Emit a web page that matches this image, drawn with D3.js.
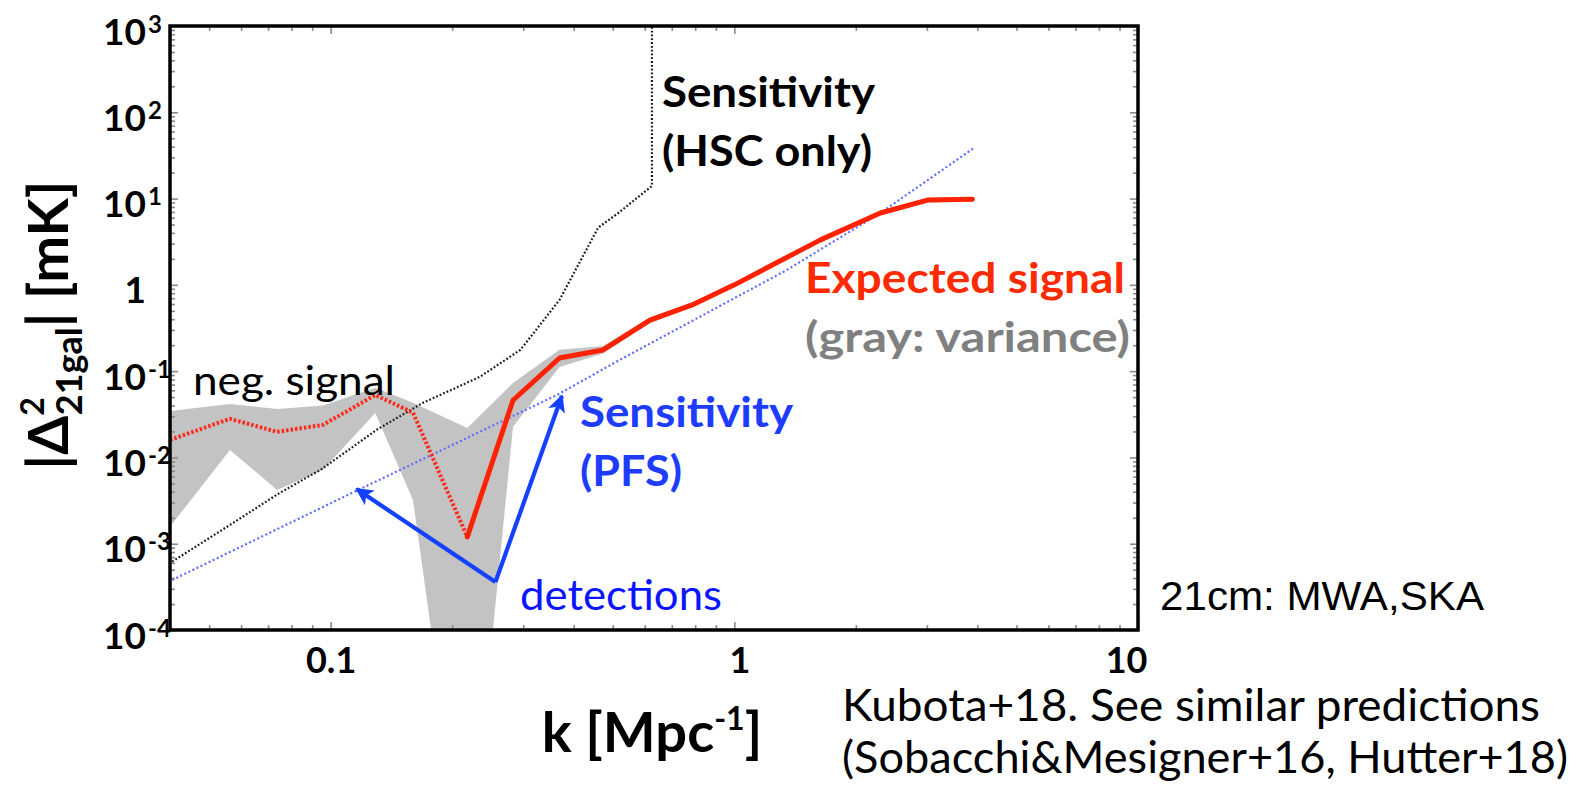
<!DOCTYPE html>
<html>
<head>
<meta charset="utf-8">
<script src="https://cdn.jsdelivr.net/npm/d3@7/dist/d3.min.js"></script>
<style>
  html, body { margin: 0; padding: 0; background: #fff; }
  svg { display: block; }
</style>
</head>
<body>
<svg id="chart" width="1580" height="785" font-family="Lato, 'Open Sans', sans-serif"></svg>
<script>
// ---- data (k in Mpc^-1, |Delta^2_21gal| in mK) ----
// expected signal where the cross power is negative (dotted)
const negK   = [0.04, 0.0563, 0.0737, 0.0957, 0.129, 0.16, 0.218];
const negVal = [0.016, 0.028, 0.0198, 0.0238, 0.053, 0.033, 0.0012];
// expected signal where the cross power is positive (solid)
const posK   = [0.218, 0.283, 0.369, 0.473, 0.618, 0.786, 1.0, 1.63, 2.3, 3.01, 3.89];
const posVal = [0.0012, 0.046, 0.142, 0.176, 0.39, 0.585, 1.0, 3.3, 6.8, 9.6, 9.8];
// variance of the signal (gray band)
const bandK  = [0.04, 0.0563, 0.0737, 0.0957, 0.129, 0.16, 0.218, 0.283, 0.369, 0.473, 0.618, 0.786, 1.0, 1.63, 2.3, 3.01, 3.89];
const bandLo = [0.00157, 0.0122, 0.0042, 0.0072, 0.0328, 0.0032, 1e-7, 0.0226, 0.112, 0.16, 0.36, 0.55, 0.94, 3.1, 6.4, 9.0, 9.2];
const bandHi = [0.0346, 0.0417, 0.0365, 0.04, 0.064, 0.043, 0.022, 0.073, 0.177, 0.195, 0.42, 0.62, 1.06, 3.5, 7.2, 10.2, 10.4];
// sensitivity, HSC only (black dotted)
const hscK   = [0.0405, 0.0573, 0.0749, 0.0945, 0.130, 0.169, 0.234, 0.295, 0.369, 0.46, 0.52, 0.625, 0.625];
const hscVal = [0.00062, 0.00174, 0.0039, 0.0072, 0.0209, 0.0428, 0.0857, 0.176, 0.67, 4.6, 7.0, 14, 1e5];
// sensitivity, PFS (blue dotted)
const pfsK   = [0.0405, 0.117, 0.364, 0.52, 1.35, 2.3, 3.92];
const pfsVal = [0.00038, 0.0042, 0.053, 0.135, 1.49, 6.8, 38.5];
// "detections" arrows: common start, tips on the PFS curve
const arrowK   = [0.256, 0.116, 0.374];
const arrowVal = [0.00036, 0.0043, 0.0516];

// axis ticks and labels
const xTickVals   = [0.1, 1, 10];
const xTickLabels = ["0.1", "1", "10"];
const yTickExp    = [-4, -3, -2, -1, 0, 1, 2, 3];

const zip = (a, b) => a.map((v, i) => [v, b[i]]);

// ---- layout ----
const svg = d3.select("#chart");
const L = 170, T = 26, R = 1138, B = 630;

const x = d3.scaleLog().domain([0.04, 10]).range([L, R]);
const y = d3.scaleLog().domain([1e-4, 1e3]).range([B, T]);

const defs = svg.append("defs");
defs.append("clipPath").attr("id", "plotclip")
  .append("rect").attr("x", L).attr("y", T).attr("width", R - L).attr("height", B - T);
defs.append("filter").attr("id", "soft")
  .append("feGaussianBlur").attr("stdDeviation", 0.6);
defs.append("marker").attr("id", "head")
  .attr("viewBox", "0 0 10 10").attr("refX", 9).attr("refY", 5)
  .attr("markerWidth", 4.2).attr("markerHeight", 4.2).attr("orient", "auto")
  .append("path").attr("d", "M0,0 L10,5 L0,10 L2.5,5 z").attr("fill", "#1440ff");

const plot = svg.append("g").attr("clip-path", "url(#plotclip)");

// variance band
plot.append("path")
  .datum(bandK.map((k, i) => ({ k, lo: bandLo[i], hi: bandHi[i] })))
  .attr("fill", "#c3c3c3")
  .attr("d", d3.area().x(d => x(d.k)).y0(d => y(d.lo)).y1(d => y(d.hi)));

const line = d3.line().x(d => x(d[0])).y(d => y(d[1]));

// HSC sensitivity
plot.append("path").datum(zip(hscK, hscVal))
  .attr("fill", "none").attr("stroke", "#1e1e1e").attr("stroke-width", 2.2)
  .attr("stroke-dasharray", "1.8,2").attr("d", line);

// PFS sensitivity
plot.append("path").datum(zip(pfsK, pfsVal))
  .attr("fill", "none").attr("stroke", "#5f6dff").attr("stroke-width", 2.2)
  .attr("stroke-dasharray", "2,2.5").attr("d", line);

// negative signal
plot.append("path").datum(zip(negK, negVal))
  .attr("fill", "none").attr("stroke", "#ff2a1a").attr("stroke-width", 4)
  .attr("stroke-dasharray", "2.5,2").attr("d", line);

// positive signal
plot.append("path").datum(zip(posK, posVal))
  .attr("fill", "none").attr("stroke", "#ff2200").attr("stroke-width", 5)
  .attr("stroke-linejoin", "round").attr("stroke-linecap", "round")
  .attr("filter", "url(#soft)").attr("d", line);

// ---- axes: inward ticks on all four sides ----
const isMajor = v => Math.abs(Math.log10(v) - Math.round(Math.log10(v))) < 1e-9;
const xAll = x.ticks(20);
const yAll = y.ticks(40);

function tickAxis(axisFn, scale, vals, size, pos) {
  const g = svg.append("g").attr("transform", pos)
    .call(axisFn(scale).tickValues(vals).tickSizeInner(size).tickSizeOuter(0).tickFormat(""));
  g.select(".domain").remove();
  g.selectAll(".tick line").attr("stroke", "#8a8a8a").attr("stroke-width", 1.6);
  return g;
}
const xMaj = xAll.filter(isMajor), xMin = xAll.filter(v => !isMajor(v));
const yMaj = yAll.filter(isMajor), yMin = yAll.filter(v => !isMajor(v));

tickAxis(d3.axisBottom, x, xMaj, -8, `translate(0,${B})`);
tickAxis(d3.axisBottom, x, xMin, -5, `translate(0,${B})`);
tickAxis(d3.axisTop, x, xMaj, -8, `translate(0,${T})`);
tickAxis(d3.axisTop, x, xMin, -5, `translate(0,${T})`);
tickAxis(d3.axisLeft, y, yMaj, -8, `translate(${L},0)`);
tickAxis(d3.axisLeft, y, yMin, -5, `translate(${L},0)`);
tickAxis(d3.axisRight, y, yMaj, -8, `translate(${R},0)`);
tickAxis(d3.axisRight, y, yMin, -5, `translate(${R},0)`);

// frame
svg.append("rect").attr("x", L).attr("y", T).attr("width", R - L).attr("height", B - T)
  .attr("fill", "none").attr("stroke", "#000").attr("stroke-width", 3.5);

// x tick labels
const xLab = svg.append("g").attr("transform", `translate(0,${B})`)
  .call(d3.axisBottom(x).tickValues(xTickVals).tickSize(0)
    .tickFormat((d, i) => xTickLabels[i]));
xLab.select(".domain").remove();
xLab.selectAll("text")
  .style("font-family", "Lato, sans-serif").attr("font-weight", 700)
  .attr("font-size", 36).attr("fill", "#000")
  .attr("dy", 0).attr("y", 43)
  .attr("dx", d => d === 10 ? -12 : (d === 1 ? 5 : 0));

// y tick labels as powers of ten
const yLab = svg.append("g").attr("transform", `translate(${L},0)`)
  .call(d3.axisLeft(y).tickValues(yTickExp.map(e => Math.pow(10, e))).tickSize(0).tickFormat(""));
yLab.select(".domain").remove();
yLab.selectAll(".tick").each(function (d) {
  const e = Math.round(Math.log10(d));
  const g = d3.select(this);
  g.append("text").attr("x", -24).attr("y", 18).attr("text-anchor", "end")
    .style("font-family", "Lato, sans-serif")
    .attr("font-weight", 700).attr("font-size", 37).attr("fill", "#000")
    .text(e === 0 ? "1" : "10");
  if (e !== 0) {
    g.append("text").attr("x", -22).attr("y", 6).attr("text-anchor", "start")
      .style("font-family", "Lato, sans-serif")
      .attr("font-weight", 700).attr("font-size", 24).attr("fill", "#000")
      .text(String(e));
  }
});

// axis titles
const xt = svg.append("text").attr("x", 652).attr("y", 752).attr("text-anchor", "middle")
  .attr("font-weight", 700).attr("font-size", 56).attr("fill", "#000");
xt.append("tspan").text("k [Mpc");
xt.append("tspan").attr("font-size", 32).attr("dy", -22).text("-1");
xt.append("tspan").attr("dy", 22).text("]");

const yt = svg.append("text").attr("transform", "translate(68,325) rotate(-90)")
  .attr("text-anchor", "middle").attr("font-weight", 700).attr("font-size", 56).attr("fill", "#000");
yt.append("tspan").text("|Δ");
yt.append("tspan").attr("font-size", 32).attr("dy", -24).text("2");
yt.append("tspan").attr("font-size", 36).attr("dx", -18).attr("dy", 38).text("21gal");
yt.append("tspan").attr("dy", -14).text("| [mK]");

// detection arrows
[1, 2].forEach(i => {
  svg.append("line")
    .attr("x1", x(arrowK[0])).attr("y1", y(arrowVal[0]))
    .attr("x2", x(arrowK[i])).attr("y2", y(arrowVal[i]))
    .attr("stroke", "#1440ff").attr("stroke-width", 4.2)
    .attr("marker-end", "url(#head)");
});

// annotations
function label(txt, px, py, opts) {
  const t = svg.append("text").attr("x", px).attr("y", py)
    .attr("font-size", opts.size).attr("font-weight", opts.weight || 400)
    .attr("fill", opts.color || "#000").text(txt);
  if (opts.family) t.style("font-family", opts.family);
  if (opts.width) t.attr("textLength", opts.width).attr("lengthAdjust", "spacingAndGlyphs");
  return t;
}
label("Sensitivity", 662, 107, { size: 42, weight: 700, width: 213 });
label("(HSC only)", 662, 166, { size: 42, weight: 700, width: 210 });
label("Expected signal", 805, 293, { size: 42, weight: 700, color: "#ff2a00", width: 320 });
label("(gray: variance)", 805, 352, { size: 42, weight: 700, color: "#808080", width: 325 });
label("Sensitivity", 580, 427, { size: 42, weight: 700, color: "#1d3cff", width: 213 });
label("(PFS)", 580, 486, { size: 42, weight: 700, color: "#1d3cff", width: 102 });
label("detections", 520, 610, { size: 42, color: "#0a14ff", width: 202 });
label("neg. signal", 193, 395, { size: 40, width: 202 });
label("21cm: MWA,SKA", 1160, 610, { size: 40, family: "'Liberation Sans Narrow', 'Liberation Sans', Arial, sans-serif", width: 324 });
label("Kubota+18. See similar predictions", 842, 721, { size: 44, width: 698 });
label("(Sobacchi&Mesigner+16, Hutter+18)", 842, 773, { size: 44, width: 726 });
</script>
</body>
</html>
